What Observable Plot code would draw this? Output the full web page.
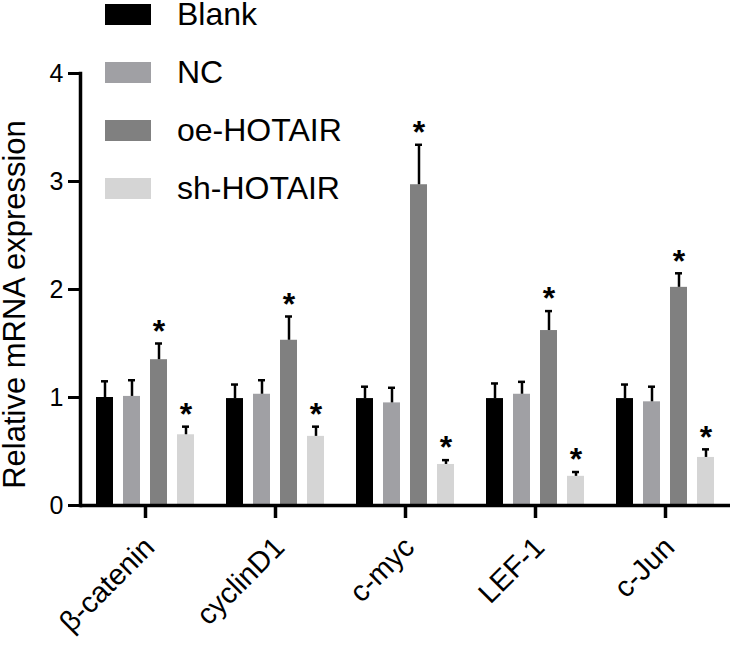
<!DOCTYPE html>
<html>
<head>
<meta charset="utf-8">
<script src="https://cdn.jsdelivr.net/npm/d3@7"></script>
<script src="https://cdn.jsdelivr.net/npm/@observablehq/plot@0.6"></script>
<style>
  body { margin: 0; background: white; }
  #wrap { position: relative; width: 735px; height: 649px; font-family: "Liberation Sans", Arial, sans-serif; }
  #legend { position: absolute; left: 105px; top: 0px; }
  .item { display: flex; align-items: center; height: 58px; margin-top: -15px; margin-bottom: 15px; }
  .sw { width: 46px; height: 21px; margin-right: 26px; }
  .lab { font-size: 32px; color: black; }
</style>
</head>
<body>
<div id="wrap"></div>
<script>
const genes = ["β-catenin", "cyclinD1", "c-myc", "LEF-1", "c-Jun"];
const groups = ["Blank", "NC", "oe-HOTAIR", "sh-HOTAIR"];
const colors = ["#000000", "#a0a0a4", "#808080", "#d5d5d5"];
const yTicks = [0, 1, 2, 3, 4];
const yLabel = "Relative mRNA expression";

const blankMean = [1.00, 0.99, 0.99, 0.99, 0.99];
const blankErr  = [0.15, 0.13, 0.11, 0.14, 0.13];
const ncMean    = [1.01, 1.03, 0.95, 1.03, 0.96];
const ncErr     = [0.15, 0.13, 0.14, 0.115, 0.14];
const oeMean    = [1.35, 1.53, 2.97, 1.62, 2.02];
const oeErr     = [0.15, 0.22, 0.37, 0.18, 0.13];
const shMean    = [0.655, 0.64, 0.38, 0.27, 0.445];
const shErr     = [0.075, 0.09, 0.04, 0.04, 0.075];
const significantGroups = ["oe-HOTAIR", "sh-HOTAIR"];

const series = [
  [blankMean, blankErr],
  [ncMean, ncErr],
  [oeMean, oeErr],
  [shMean, shErr]
];
const rows = [];
genes.forEach((g, i) => {
  groups.forEach((grp, j) => {
    const v = series[j][0][i], e = series[j][1][i];
    rows.push({gene: g, group: grp, value: v, err: e, top: v + e, sig: significantGroups.includes(grp)});
  });
});

const chart = Plot.plot({
  width: 735,
  height: 649,
  marginLeft: 80,
  marginRight: 5,
  marginTop: 73,
  marginBottom: 144,
  style: {fontFamily: "'Liberation Sans', Arial, sans-serif", color: "black", background: "white"},
  fx: {domain: genes, padding: 0, label: null},
  x: {domain: groups, paddingInner: 0.357, paddingOuter: 0.5, axis: null},
  y: {domain: [0, 4]},
  color: {domain: groups, range: colors},
  marks: [
    Plot.barY(rows, {fx: "gene", x: "group", y: "value", fill: "group"}),
    Plot.ruleX(rows, {fx: "gene", x: "group", y1: "value", y2: "top", strokeWidth: 2.5}),
    Plot.tickY(rows, {fx: "gene", x: "group", y: "top", strokeWidth: 2.5, insetLeft: 5, insetRight: 5}),
    Plot.text(rows.filter(d => d.sig), {fx: "gene", x: "group", y: "top", text: () => "*", fontSize: 32, fontWeight: "bold", dy: -12}),
    Plot.ruleY([0], {strokeWidth: 3.5}),
    Plot.frame({anchor: "left", strokeWidth: 3.5, facetAnchor: "left"}),
    Plot.axisY({ticks: yTicks, tickFormat: "d", tickSize: 12, tickPadding: 5, fontSize: 25, strokeWidth: 3, label: null}),
    Plot.text([yLabel], {text: d => d, frameAnchor: "left", facetAnchor: "left", rotate: -90, fontSize: 31, dx: -65, dy: 15, lineAnchor: "middle", textAnchor: "middle"}),
    Plot.axisFx({anchor: "bottom", tickSize: 13, strokeWidth: 3.5, tickFormat: () => "", label: null}),
    Plot.text(genes, {fx: d => d, text: d => d, frameAnchor: "bottom", rotate: -45, textAnchor: "end", lineAnchor: "middle", fontSize: 29, dx: 4, dy: 37})
  ]
});

const wrap = document.getElementById("wrap");
wrap.appendChild(chart);
const legend = document.createElement("div");
legend.id = "legend";
groups.forEach((g, j) => {
  const it = document.createElement("div");
  it.className = "item";
  const sw = document.createElement("div");
  sw.className = "sw";
  sw.style.background = colors[j];
  const lab = document.createElement("span");
  lab.className = "lab";
  lab.textContent = g;
  it.appendChild(sw);
  it.appendChild(lab);
  legend.appendChild(it);
});
wrap.appendChild(legend);
</script>
</body>
</html>
